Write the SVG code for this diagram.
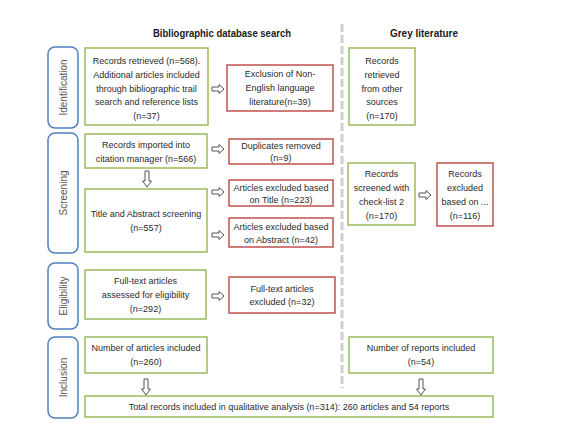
<svg xmlns="http://www.w3.org/2000/svg" xmlns:xlink="http://www.w3.org/1999/xlink" width="564" height="440" viewBox="0 0 564 440">
<style>
text{font-family:"Liberation Sans",Arial,sans-serif;font-size:9px;fill:#2b2b2b;text-anchor:middle}
.hd{font-weight:bold;font-size:11.5px;fill:#1a1a1a}
.ph{font-size:10px;fill:#555}
.g{fill:#fff;stroke:#9bbb59;stroke-width:1.5}
.r{fill:#fff;stroke:#c0504d;stroke-width:1.5}
.p{fill:#fff;stroke:#4f81bd;stroke-width:1.5}
.arr{fill:#fff;stroke:#555;stroke-width:1}
</style>
<defs>
<path id="ra" class="arr" d="M-6,-2H1V-4.5L6,0L1,4.5V2H-6Z"/>
<path id="da" class="arr" d="M-2,0V10H-4.5L0,16L4.5,10H2V0Z"/>
</defs>
<rect width="564" height="440" fill="#fff"/>
<text class="hd" x="222" y="37" textLength="138" lengthAdjust="spacingAndGlyphs">Bibliographic database search</text>
<text class="hd" x="424" y="37" textLength="68" lengthAdjust="spacingAndGlyphs">Grey literature</text>
<line x1="342" y1="24" x2="342" y2="388" stroke="#d0d0d0" stroke-width="3" stroke-dasharray="8,3"/>

<g id="phase-identification"><rect class="p" x="48" y="47" width="30" height="81" rx="7"/><text class="ph" transform="translate(66.5,87.5) rotate(-90)">Identification</text></g>
<g id="phase-screening"><rect class="p" x="48" y="133" width="30" height="120" rx="7"/><text class="ph" transform="translate(66.5,193) rotate(-90)">Screening</text></g>
<g id="phase-eligibility"><rect class="p" x="48" y="263" width="30" height="66" rx="7"/><text class="ph" transform="translate(66.5,296) rotate(-90)">Eligibility</text></g>
<g id="phase-inclusion"><rect class="p" x="48" y="337" width="30" height="81" rx="7"/><text class="ph" transform="translate(66.5,377.5) rotate(-90)">Inclusion</text></g>

<g id="records-retrieved"><rect class="g" x="85" y="48" width="123" height="77"/>
<text x="146.5" y="63.5">Records retrieved (n=568).</text>
<text x="146.5" y="77.5">Additional articles included</text>
<text x="146.5" y="91.5">through bibliographic trail</text>
<text x="146.5" y="105">search and reference lists</text>
<text x="146.5" y="118.5">(n=37)</text></g>

<g id="exclusion-non-english"><rect class="r" x="227" y="65" width="106" height="46"/>
<text x="280" y="77">Exclusion of Non-</text>
<text x="280" y="91">English language</text>
<text x="280" y="105">literature(n=39)</text></g>

<g id="records-other-sources"><rect class="g" x="349" y="48" width="66" height="77"/>
<text x="382" y="63.5">Records</text>
<text x="382" y="77.5">retrieved</text>
<text x="382" y="91.5">from other</text>
<text x="382" y="105">sources</text>
<text x="382" y="118.5">(n=170)</text></g>

<g id="records-imported"><rect class="g" x="85" y="134" width="122" height="34"/>
<text x="146" y="148">Records imported into</text>
<text x="146" y="162">citation manager (n=566)</text></g>

<g id="duplicates-removed"><rect class="r" x="229" y="139" width="104" height="25"/>
<text x="281" y="148.5">Duplicates removed</text>
<text x="281" y="161">(n=9)</text></g>

<g id="title-abstract-screening"><rect class="g" x="85" y="189" width="122" height="63"/>
<text x="146" y="217">Title and Abstract screening</text>
<text x="146" y="231">(n=557)</text></g>

<g id="excluded-title"><rect class="r" x="229" y="180" width="104" height="26"/>
<text x="281" y="190.5">Articles excluded based</text>
<text x="281" y="203">on Title (n=223)</text></g>

<g id="excluded-abstract"><rect class="r" x="229" y="218" width="104" height="29"/>
<text x="281" y="230">Articles excluded based</text>
<text x="281" y="243">on Abstract (n=42)</text></g>

<g id="records-screened"><rect class="g" x="348" y="163" width="67" height="62"/>
<text x="381.5" y="177">Records</text>
<text x="381.5" y="191">screened with</text>
<text x="381.5" y="205">check-list 2</text>
<text x="381.5" y="219">(n=170)</text></g>

<g id="records-excluded-grey"><rect class="r" x="437" y="163" width="56" height="63"/>
<text x="465" y="177">Records</text>
<text x="465" y="191">excluded</text>
<text x="465" y="205">based on ...</text>
<text x="465" y="219">(n=116)</text></g>

<g id="fulltext-assessed"><rect class="g" x="85" y="270" width="121" height="49"/>
<text x="145.5" y="284">Full-text articles</text>
<text x="145.5" y="298">assessed for eligibility</text>
<text x="145.5" y="312">(n=292)</text></g>

<g id="fulltext-excluded"><rect class="r" x="229" y="277" width="106" height="36"/>
<text x="282" y="291.5">Full-text articles</text>
<text x="282" y="305">excluded (n=32)</text></g>

<g id="articles-included"><rect class="g" x="85" y="337" width="122" height="36"/>
<text x="146" y="351">Number of articles included</text>
<text x="146" y="365">(n=260)</text></g>

<g id="reports-included"><rect class="g" x="349" y="337" width="144" height="36"/>
<text x="421" y="351">Number of reports included</text>
<text x="421" y="365">(n=54)</text></g>

<g id="total-included"><rect class="g" x="85" y="396" width="408" height="21"/>
<text x="289" y="410">Total records included in qualitative analysis (n=314): 260 articles and 54 reports</text></g>

<g id="connectors">
<use xlink:href="#ra" x="218" y="89"/>
<use xlink:href="#ra" x="218" y="149"/>
<use xlink:href="#ra" x="218" y="192"/>
<use xlink:href="#ra" x="218" y="235"/>
<use xlink:href="#ra" x="218" y="296"/>
<use xlink:href="#ra" x="425" y="195"/>
<use xlink:href="#da" x="147" y="171"/>
<use xlink:href="#da" x="146" y="379"/>
<use xlink:href="#da" x="421" y="379"/>
</g>
</svg>
